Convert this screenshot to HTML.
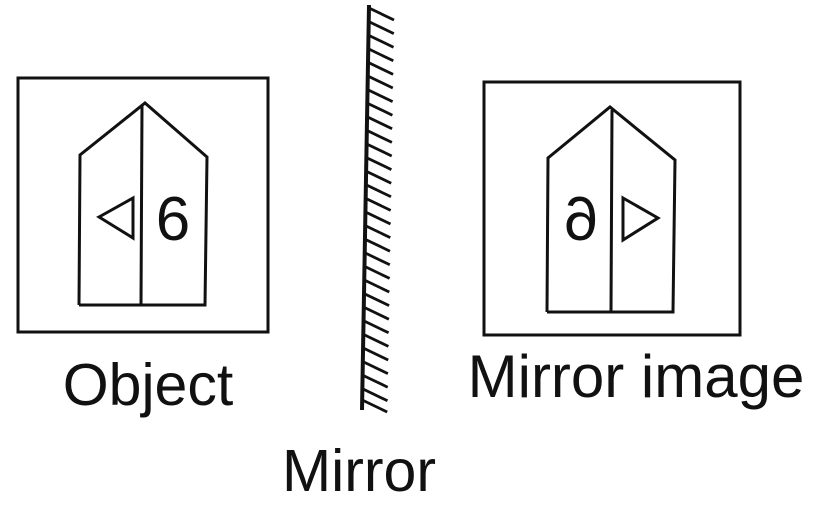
<!DOCTYPE html>
<html><head><style>html,body{margin:0;padding:0;background:#fff;}svg{display:block}</style></head>
<body>
<svg width="827" height="505" viewBox="0 0 827 505" xmlns="http://www.w3.org/2000/svg">
<defs>
<line id="hl" x1="0" y1="0" x2="25" y2="12" stroke="#111" stroke-width="2.8"/>
</defs>
<g fill="none" stroke="#111" stroke-width="3" stroke-linejoin="miter">
<rect x="18" y="78" width="250" height="254"/>
<polyline points="79,305 80,155 145,103 207,157 205,305 79,305"/>
<line x1="142" y1="106" x2="141" y2="305"/>
<polygon points="99,217 133,198 133,238"/>
<rect x="484" y="82" width="256" height="253"/>
<polyline points="547,312 548,158 610,107 675,160 673,312 547,312"/>
<line x1="612" y1="110" x2="611" y2="312"/>
<polygon points="623,198 658,218 623,240"/>
<line x1="369" y1="5" x2="362" y2="410" stroke-width="4"/>
</g>
<g>
<use href="#hl" x="369" y="8"/>
<use href="#hl" x="368.8" y="21.6"/>
<use href="#hl" x="368.5" y="35.2"/>
<use href="#hl" x="368.3" y="48.8"/>
<use href="#hl" x="368.1" y="62.4"/>
<use href="#hl" x="367.8" y="76"/>
<use href="#hl" x="367.6" y="89.6"/>
<use href="#hl" x="367.4" y="103.2"/>
<use href="#hl" x="367.1" y="116.8"/>
<use href="#hl" x="366.9" y="130.4"/>
<use href="#hl" x="366.7" y="144"/>
<use href="#hl" x="366.4" y="157.6"/>
<use href="#hl" x="366.2" y="171.2"/>
<use href="#hl" x="366" y="184.8"/>
<use href="#hl" x="365.7" y="198.4"/>
<use href="#hl" x="365.5" y="212"/>
<use href="#hl" x="365.3" y="225.6"/>
<use href="#hl" x="365" y="239.2"/>
<use href="#hl" x="364.8" y="252.8"/>
<use href="#hl" x="364.6" y="266.4"/>
<use href="#hl" x="364.3" y="280"/>
<use href="#hl" x="364.1" y="293.6"/>
<use href="#hl" x="363.9" y="307.2"/>
<use href="#hl" x="363.6" y="320.8"/>
<use href="#hl" x="363.4" y="334.4"/>
<use href="#hl" x="363.2" y="348"/>
<use href="#hl" x="362.9" y="361.6"/>
<use href="#hl" x="362.7" y="375.2"/>
<use href="#hl" x="362.5" y="388.8"/>
<use href="#hl" x="362.2" y="400"/>
</g>
<g font-family="Liberation Sans, sans-serif" fill="#111">
<text x="173" y="240" font-size="62" text-anchor="middle">6</text>
<text transform="translate(581,240) scale(-1,1)" font-size="62" text-anchor="middle">6</text>
<text x="148" y="405" font-size="59" text-anchor="middle">Object</text>
<text x="636" y="397" font-size="60" text-anchor="middle">Mirror image</text>
<text x="359" y="491" font-size="59" text-anchor="middle">Mirror</text>
</g>
</svg>
</body></html>
